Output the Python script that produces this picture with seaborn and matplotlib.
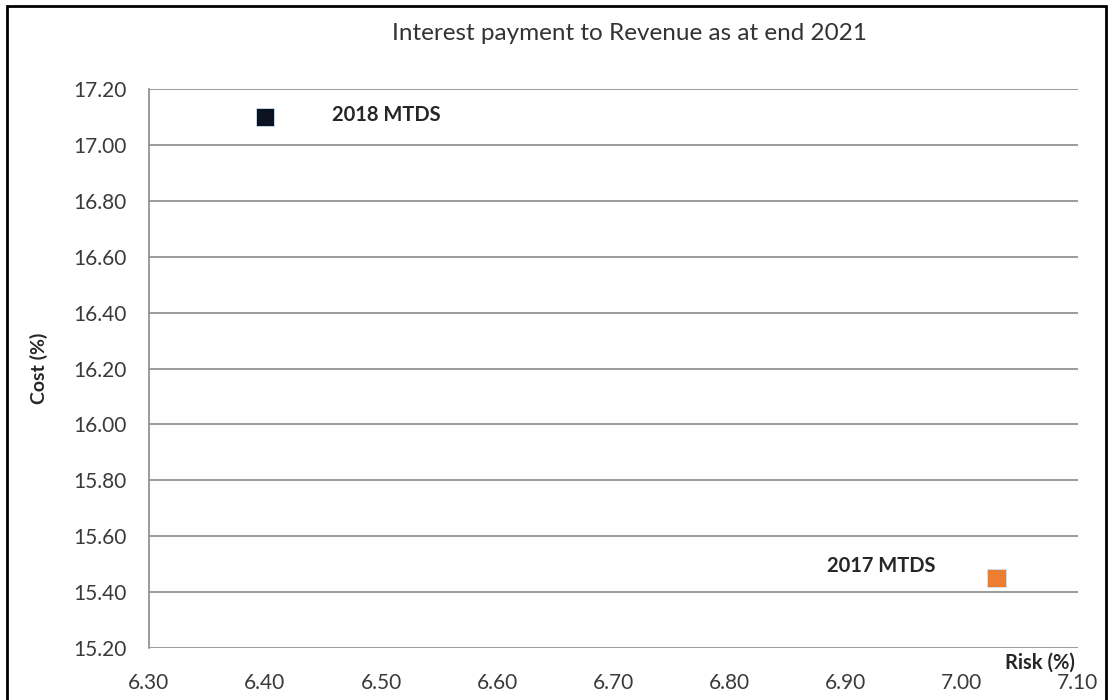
import matplotlib
matplotlib.use("Agg")
import matplotlib.pyplot as plt
import seaborn as sns
import pandas as pd
from matplotlib.patches import Rectangle

# ---------------- DATA ----------------
strategies = ["2018 MTDS", "2017 MTDS"]
risk = [6.40, 7.03]
cost = [17.10, 15.45]
colors = ["#0b1220", "#ED7D31"]

xticks = [6.30, 6.40, 6.50, 6.60, 6.70, 6.80, 6.90, 7.00, 7.10]
yticks = [15.20, 15.40, 15.60, 15.80, 16.00, 16.20, 16.40, 16.60, 16.80, 17.00, 17.20]

df = pd.DataFrame({"Strategy": strategies, "Risk": risk, "Cost": cost})

# ---------------- PLOT ----------------
sns.set_style("white")
plt.rcParams["font.family"] = ["Lato", "DejaVu Sans"]

fig = plt.figure(figsize=(11.1, 7), dpi=100)
ax = fig.add_axes([0.134, 0.074, 0.837, 0.799])

sns.scatterplot(data=df, x="Risk", y="Cost", hue="Strategy",
                palette=colors, marker="s", s=170, edgecolor="#cfe3f5",
                linewidth=0.6, legend=False, ax=ax, zorder=3)

ax.set_xlim(6.30, 7.10)
ax.set_ylim(15.20, 17.20)
ax.set_xticks(xticks)
ax.set_yticks(yticks)
ax.set_xticklabels([f"{v:.2f}" for v in xticks], fontsize=15, color="#3a3a3a")
ax.set_yticklabels([f"{v:.2f}" for v in yticks], fontsize=15, color="#3a3a3a")
ax.tick_params(axis="y", length=0, pad=16)
ax.tick_params(axis="x", length=0, pad=18)

ax.grid(axis="y", color="#8a8a8a", linewidth=1.2)
ax.grid(axis="x", visible=False)
for side in ["top", "right", "bottom"]:
    ax.spines[side].set_visible(False)
ax.spines["left"].set_color("#8a8a8a")
ax.spines["left"].set_linewidth(1.2)

ax.set_xlabel("")
ax.set_ylabel("Cost (%)", fontsize=14, fontweight="bold", labelpad=18)
ax.text(0.997, -0.025, "Risk (%)", transform=ax.transAxes, ha="right", va="center",
        fontsize=14.5, fontweight="bold")

ax.annotate("2018 MTDS", (risk[0], cost[0]), xytext=(48, 1), textcoords="offset points",
            ha="left", va="center", fontsize=14.5, fontweight="bold")
ax.annotate("2017 MTDS", (risk[1], cost[1]), xytext=(-44, 9), textcoords="offset points",
            ha="right", va="center", fontsize=14.5, fontweight="bold")

fig.suptitle("Interest payment to Revenue as at end 2021", x=0.567, y=0.967,
             fontsize=17.5, color="#333333")

fig.patches.append(Rectangle((0.006, -0.01), 0.99, 1.001, transform=fig.transFigure,
                             fill=False, edgecolor="black", linewidth=2))

fig.savefig("out.png", dpi=100, facecolor="white")
